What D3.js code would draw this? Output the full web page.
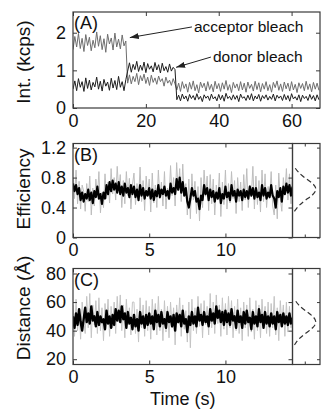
<!DOCTYPE html>
<html>
<head>
<meta charset="utf-8">
<script src="https://cdn.jsdelivr.net/npm/d3@7"></script>
<style>
body { margin: 0; background: #fff; }
</style>
</head>
<body>
<script>
// ---- data ----
// (A) intensity traces, one sample every 0.5 s
var dtA = 0.5;
var acceptor = [
  1.55,1.90,1.62,1.98,1.58,1.85,1.50,1.95,1.66,1.88,1.52,1.80,1.60,2.02,1.64,1.92,1.55,1.84,1.48,1.96,
  1.70,1.86,1.54,1.99,1.62,1.83,1.57,1.94,1.65,1.78,
  0.66,0.88,0.64,0.84,0.70,0.92,0.62,0.86,0.72,0.90,0.65,0.82,0.60,0.87,0.68,0.80,0.63,0.85,0.70,0.78,
  0.58,0.82,0.66,0.74,0.60,0.78,0.64,
  0.48,0.66,0.44,0.70,0.52,0.64,0.42,0.68,0.50,0.72,0.46,0.62,0.40,0.69,0.54,0.66,0.45,0.70,0.49,0.63,
  0.43,0.71,0.51,0.65,0.44,0.67,0.50,0.73,0.47,0.62,0.41,0.68,0.53,0.64,0.46,0.70,0.48,0.66,0.42,0.69,
  0.52,0.63,0.45,0.71,0.49,0.67,0.43,0.65,0.50,0.70,0.46,0.62,0.42,0.68,0.54,0.72,0.47,0.64,0.44,0.69,
  0.51,0.66,0.45,0.70,0.48,0.63,0.41,0.67,0.52,0.65,0.46,0.71,0.49,0.64,0.43,0.68,0.50,0.66,0.47
];
var donor = [
  0.50,0.72,0.46,0.78,0.55,0.70,0.44,0.80,0.52,0.74,0.48,0.68,0.56,0.82,0.50,0.71,0.45,0.76,0.58,0.69,
  0.47,0.79,0.53,0.73,0.49,0.84,0.55,0.70,0.46,0.75,
  0.98,1.20,0.95,1.16,1.02,1.24,0.97,1.14,1.00,1.22,0.94,1.18,1.03,1.12,0.96,1.21,1.01,1.15,0.93,1.19,
  0.99,1.10,0.95,1.17,0.98,1.08,1.02,
  0.22,0.34,0.19,0.37,0.24,0.32,0.18,0.36,0.25,0.33,0.21,0.38,0.23,0.31,0.17,0.35,0.26,0.32,0.20,0.37,
  0.24,0.30,0.19,0.36,0.22,0.34,0.18,0.39,0.25,0.31,0.21,0.35,0.23,0.33,0.17,0.37,0.26,0.30,0.20,0.34,
  0.22,0.38,0.19,0.32,0.24,0.36,0.18,0.33,0.25,0.35,0.21,0.31,0.23,0.37,0.19,0.34,0.26,0.32,0.20,0.36,
  0.22,0.33,0.18,0.38,0.24,0.30,0.21,0.35,0.17,0.34,0.25,0.31,0.20,0.36,0.23,0.33,0.19,0.35,0.22
];

// (B) efficiency, raw (grey) and smoothed (black), one sample every 0.1 s
var dtB = 0.1;
var effRaw = [
  0.80,0.52,0.90,0.45,0.75,0.38,0.70,0.62,0.35,0.72,0.48,0.82,0.30,0.66,0.42,0.78,0.55,0.88,0.33,0.60,
  0.40,0.85,0.52,0.74,0.46,0.92,0.58,0.80,0.50,0.95,0.62,0.84,0.40,0.76,0.45,0.88,0.56,0.79,0.38,0.70,
  0.86,0.44,0.72,0.50,0.94,0.48,0.76,0.36,0.82,0.55,0.78,0.34,0.86,0.46,0.70,0.40,0.90,0.52,0.74,0.42,
  0.88,0.38,0.66,0.50,0.96,0.56,0.80,0.42,1.00,0.62,0.92,0.48,0.98,0.55,0.72,0.30,0.78,0.25,0.85,0.50,
  0.75,0.32,0.68,0.22,0.80,0.40,0.90,0.55,0.82,0.36,0.84,0.45,0.78,0.30,0.70,0.50,0.86,0.28,0.74,0.44,
  0.90,0.38,0.72,0.46,0.88,0.52,0.76,0.32,0.80,0.48,0.74,0.36,0.84,0.50,0.92,0.40,0.70,0.54,0.95,0.38,
  0.82,0.44,0.76,0.34,0.90,0.48,0.85,0.40,0.68,0.52,0.88,0.42,0.30,0.70,0.25,0.86,0.52,0.35,0.80,0.58,
  0.92,0.50,0.85,0.45,0.90
];
var effSmooth = [
  0.72,0.62,0.70,0.58,0.66,0.50,0.60,0.48,0.58,0.52,0.64,0.50,0.60,0.46,0.62,0.54,0.68,0.52,0.58,0.45,
  0.60,0.52,0.70,0.58,0.74,0.62,0.76,0.64,0.72,0.60,0.74,0.58,0.68,0.56,0.72,0.60,0.66,0.54,0.70,0.58,
  0.68,0.54,0.64,0.50,0.70,0.56,0.66,0.52,0.62,0.56,0.66,0.52,0.64,0.50,0.62,0.55,0.70,0.54,0.64,0.58,
  0.68,0.56,0.62,0.52,0.72,0.60,0.66,0.58,0.78,0.64,0.80,0.60,0.74,0.56,0.66,0.48,0.40,0.52,0.66,0.56,
  0.62,0.48,0.52,0.38,0.56,0.50,0.70,0.58,0.66,0.50,0.64,0.54,0.62,0.48,0.60,0.52,0.66,0.46,0.58,0.52,
  0.68,0.54,0.60,0.50,0.70,0.56,0.62,0.48,0.64,0.56,0.62,0.50,0.64,0.54,0.62,0.52,0.68,0.56,0.66,0.52,
  0.66,0.54,0.60,0.50,0.70,0.56,0.66,0.52,0.60,0.54,0.70,0.56,0.52,0.40,0.62,0.54,0.66,0.48,0.68,0.58,
  0.72,0.60,0.70,0.56,0.68
];

// (C) distance in angstrom, raw and smoothed, same sampling
var distRaw = [
  58,36,62,40,55,34,60,48,38,64,42,66,35,58,44,61,38,63,40,56,
  33,59,45,62,36,57,42,60,38,64,46,65,40,58,35,62,44,56,37,60,
  60,38,55,32,63,42,58,36,61,40,57,34,62,44,59,37,64,40,55,33,
  61,39,57,35,60,42,56,30,58,45,63,36,58,41,54,32,60,28,62,40,
  56,38,64,43,59,35,61,44,57,37,66,42,60,38,65,45,58,36,63,41,
  59,37,64,42,61,35,57,40,62,38,56,33,60,42,58,36,63,39,55,34,
  61,40,58,35,62,44,57,38,60,36,59,42,64,37,56,33,61,45,58,36,
  60,39,57,42,55
];
var distSmooth = [
  50,42,52,44,55,46,40,48,56,46,52,45,57,47,50,43,53,44,50,46,
  48,41,54,45,50,42,51,44,55,47,54,46,57,48,52,42,53,45,49,41,
  51,43,48,40,53,45,50,42,51,44,52,45,50,41,54,46,51,43,53,45,
  48,42,53,46,50,43,51,40,52,46,51,43,54,45,48,39,50,44,53,45,
  50,43,56,47,51,44,53,46,50,43,55,47,52,45,57,49,54,46,53,44,
  54,46,52,44,55,47,50,42,54,46,50,42,53,45,54,46,49,41,53,45,
  50,43,55,46,51,42,53,45,50,43,52,45,50,41,53,46,51,43,52,45,
  50,44,52,45,49
];

// histograms on the right (relative counts)
var effBins  = [0.35,0.42,0.50,0.57,0.645,0.72,0.79,0.87,0.94];
var effHist  = [0.08,0.23,0.52,0.85,1.00,0.85,0.52,0.23,0.08];
var distBins = [30,34,38,42,46,50,54,58,62];
var distHist = [0.08,0.23,0.52,0.85,1.00,0.85,0.52,0.23,0.08];

// ticks
var ticksAx = [0, 20, 40, 60], ticksAy = [0, 1, 2];
var ticksBx = [0, 5, 10],      ticksBy = [0, 0.4, 0.8, 1.2];
var ticksCx = [0, 5, 10],      ticksCy = [20, 40, 60, 80];

// arrows in panel A (data units)
var notes = [
  {label: 'acceptor bleach', tx: 33.2, ty: 2.02, ax: 15.6, ay: 1.87},
  {label: 'donor bleach',    tx: 38.4, ty: 1.22, ax: 28.3, ay: 1.08}
];

// ---- layout ----
var fontFam = '"Liberation Sans", Arial, Helvetica, sans-serif';
var frameColor = '#3a3a3a';

var svg = d3.select('body')
  .append('svg')
  .attr('width', 321)
  .attr('height', 414)
  .style('background', '#fff');

svg.append('defs').append('marker')
  .attr('id', 'arrowhead')
  .attr('markerUnits', 'userSpaceOnUse')
  .attr('markerWidth', 9)
  .attr('markerHeight', 6)
  .attr('refX', 9)
  .attr('refY', 3)
  .attr('orient', 'auto')
  .append('path')
  .attr('d', 'M0,0 L9,3 L0,6 Z')
  .attr('fill', '#222');

function styleAxis(sel, showLabels) {
  sel.select('.domain').remove();
  sel.attr('font-family', fontFam).attr('font-size', 18);
  sel.selectAll('line').attr('stroke', frameColor).attr('stroke-width', 1);
  sel.selectAll('text').attr('fill', '#111');
  if (!showLabels) sel.selectAll('text').remove();
}

function fmt(d) { return String(d); }

// draws the axes box, ticks and labels of one panel
function panel(id, box, x, y, xTicks, yTicks) {
  var g = svg.append('g').attr('id', id);

  g.append('clipPath').attr('id', 'clip' + id)
    .append('rect')
    .attr('x', box.left).attr('y', box.top)
    .attr('width', box.right - box.left).attr('height', box.bottom - box.top);

  var plot = g.append('g').attr('clip-path', 'url(#clip' + id + ')');

  // bottom and top
  g.append('g').attr('transform', 'translate(0,' + box.bottom + ')')
    .call(d3.axisBottom(x).tickValues(xTicks).tickSizeInner(-4).tickSizeOuter(0).tickPadding(6).tickFormat(fmt))
    .call(styleAxis, true);
  g.append('g').attr('transform', 'translate(0,' + box.top + ')')
    .call(d3.axisTop(x).tickValues(xTicks).tickSizeInner(-4).tickSizeOuter(0))
    .call(styleAxis, false);

  // left and right
  g.append('g').attr('transform', 'translate(' + box.left + ',0)')
    .call(d3.axisLeft(y).tickValues(yTicks).tickSizeInner(-4).tickSizeOuter(0).tickPadding(7).tickFormat(fmt))
    .call(styleAxis, true);
  g.append('g').attr('transform', 'translate(' + box.right + ',0)')
    .call(d3.axisRight(y).tickValues(yTicks).tickSizeInner(-4).tickSizeOuter(0))
    .call(styleAxis, false);

  return {g: g, plot: plot};
}

function frame(g, box) {
  g.append('rect')
    .attr('x', box.left).attr('y', box.top)
    .attr('width', box.right - box.left).attr('height', box.bottom - box.top)
    .attr('fill', 'none')
    .attr('stroke', frameColor)
    .attr('stroke-width', 1.2);
}

function trace(plot, data, dt, x, y, color, width) {
  var line = d3.line()
    .x(function(d, i) { return x(i * dt); })
    .y(function(d) { return y(d); });
  plot.append('path')
    .datum(data)
    .attr('d', line)
    .attr('fill', 'none')
    .attr('stroke', color)
    .attr('stroke-width', width)
    .attr('stroke-linejoin', 'round');
}

function tag(g, box, label) {
  g.append('text')
    .attr('x', box.left + 1)
    .attr('y', box.top + 17)
    .attr('font-family', fontFam)
    .attr('font-size', 18)
    .attr('fill', '#111')
    .text(label);
}

function yTitle(cy, label) {
  svg.append('text')
    .attr('transform', 'translate(30,' + cy + ') rotate(-90)')
    .attr('text-anchor', 'middle')
    .attr('font-family', fontFam)
    .attr('font-size', 19)
    .attr('fill', '#111')
    .text(label);
}

// side histogram panel sharing the y scale
function sidePanel(box, y, yTicks, bins, hist) {
  var xs = d3.scaleLinear().domain([0, 1.12]).range([box.left, box.right]);
  var g = svg.append('g');
  g.append('g').attr('transform', 'translate(0,' + box.bottom + ')')
    .call(d3.axisBottom(xs).tickValues([0.5]).tickSizeInner(-3).tickSizeOuter(0))
    .call(styleAxis, false);
  g.append('g').attr('transform', 'translate(0,' + box.top + ')')
    .call(d3.axisTop(xs).tickValues([0.5]).tickSizeInner(-3).tickSizeOuter(0))
    .call(styleAxis, false);
  g.append('g').attr('transform', 'translate(' + box.right + ',0)')
    .call(d3.axisRight(y).tickValues(yTicks).tickSizeInner(-3).tickSizeOuter(0))
    .call(styleAxis, false);

  var curve = d3.line()
    .x(function(d, i) { return xs(hist[i]); })
    .y(function(d) { return y(d); })
    .curve(d3.curveBasis);
  g.append('path')
    .datum(bins)
    .attr('d', curve)
    .attr('fill', 'none')
    .attr('stroke', '#333')
    .attr('stroke-width', 1.2)
    .attr('stroke-dasharray', '5,3');
  frame(g, box);
}

// ---- panel A ----
var boxA = {left: 73, right: 320, top: 12, bottom: 108};
var xA = d3.scaleLinear().domain([0, 67.8]).range([boxA.left, boxA.right]);
var yA = d3.scaleLinear().domain([0, 2.55]).range([boxA.bottom, boxA.top]);
var pA = panel('A', boxA, xA, yA, ticksAx, ticksAy);
trace(pA.plot, acceptor, dtA, xA, yA, '#6e6e6e', 1);
trace(pA.plot, donor, dtA, xA, yA, '#1e1e1e', 1);
frame(pA.g, boxA);
tag(pA.g, boxA, '(A)');

notes.forEach(function(n) {
  svg.append('line')
    .attr('x1', xA(n.tx) - 2).attr('y1', yA(n.ty) - 5)
    .attr('x2', xA(n.ax)).attr('y2', yA(n.ay))
    .attr('stroke', '#222')
    .attr('stroke-width', 1)
    .attr('marker-end', 'url(#arrowhead)');
  svg.append('text')
    .attr('x', xA(n.tx))
    .attr('y', yA(n.ty))
    .attr('font-family', fontFam)
    .attr('font-size', 15.5)
    .attr('fill', '#111')
    .text(n.label);
});
yTitle(62, 'Int. (kcps)');

// ---- panel B ----
var boxB = {left: 73, right: 292.5, top: 143.5, bottom: 237.5};
var xB = d3.scaleLinear().domain([0, 14.4]).range([boxB.left, boxB.right]);
var yB = d3.scaleLinear().domain([0, 1.255]).range([boxB.bottom, boxB.top]);
var pB = panel('B', boxB, xB, yB, ticksBx, ticksBy);
trace(pB.plot, effRaw, dtB, xB, yB, '#bdbdbd', 1);
trace(pB.plot, effSmooth, dtB, xB, yB, '#000', 2.2);
frame(pB.g, boxB);
tag(pB.g, boxB, '(B)');
sidePanel({left: 292.5, right: 320, top: boxB.top, bottom: boxB.bottom}, yB, ticksBy, effBins, effHist);
yTitle(189, 'Efficiency');

// ---- panel C ----
var boxC = {left: 73, right: 292.5, top: 268.5, bottom: 364.5};
var xC = d3.scaleLinear().domain([0, 14.4]).range([boxC.left, boxC.right]);
var yC = d3.scaleLinear().domain([16.3, 83.5]).range([boxC.bottom, boxC.top]);
var pC = panel('C', boxC, xC, yC, ticksCx, ticksCy);
trace(pC.plot, distRaw, dtB, xC, yC, '#c4c4c4', 1);
trace(pC.plot, distSmooth, dtB, xC, yC, '#000', 2.4);
frame(pC.g, boxC);
tag(pC.g, boxC, '(C)');
sidePanel({left: 292.5, right: 320, top: boxC.top, bottom: boxC.bottom}, yC, ticksCy, distBins, distHist);
yTitle(308, 'Distance (Å)');

svg.append('text')
  .attr('x', (boxC.left + boxC.right) / 2)
  .attr('y', 405)
  .attr('text-anchor', 'middle')
  .attr('font-family', fontFam)
  .attr('font-size', 18)
  .attr('fill', '#111')
  .text('Time (s)');
</script>
</body>
</html>
